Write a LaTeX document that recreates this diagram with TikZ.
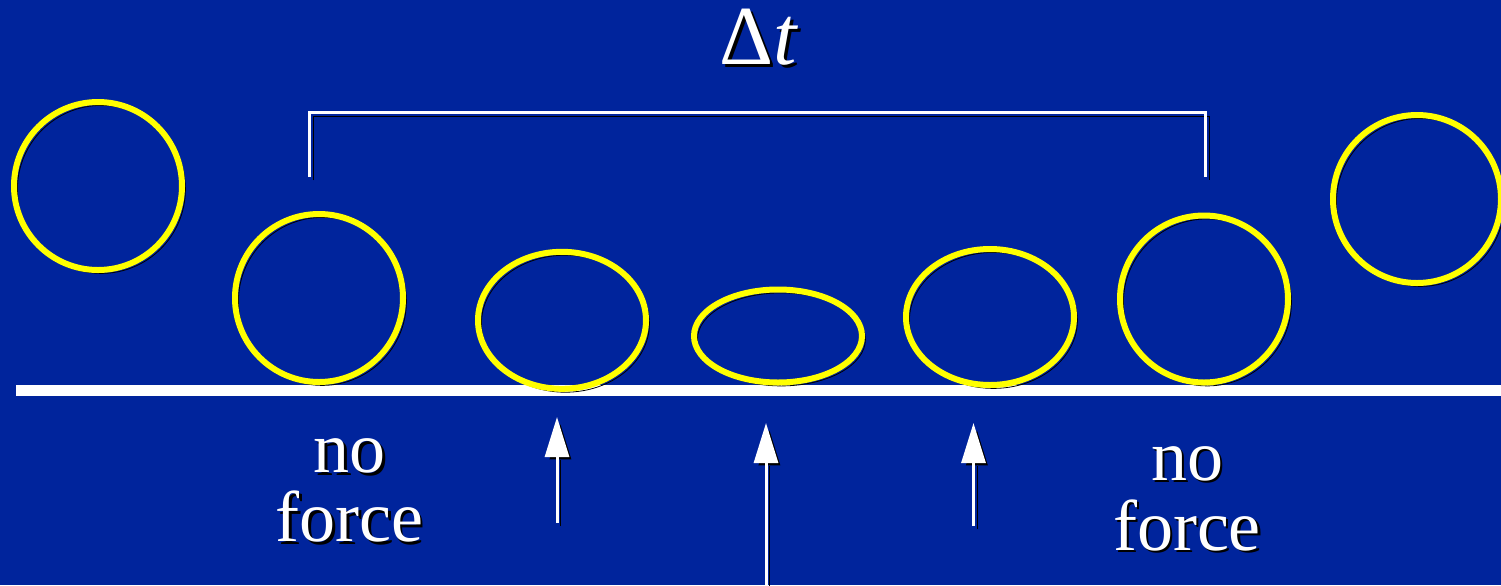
\documentclass[tikz,border=0pt]{standalone}
\usepackage{fontspec}
\setmainfont{Liberation Serif}
\usetikzlibrary{arrows.meta}
\definecolor{bgblue}{RGB}{0,36,156}
\definecolor{ringyellow}{RGB}{255,255,0}
\begin{document}
\begin{tikzpicture}[x=0.5pt,y=-0.5pt,
  sh/.style={preaction={draw=black,transform canvas={shift={(1.7pt,-1.7pt)}}}},
  ringline/.style={draw=ringyellow,line width=3pt,sh},
  groundline/.style={draw=white,line width=5.3pt,sh},
  bracketline/.style={draw=white,line width=1.6pt,line join=miter,sh},
  forcearrow/.style={draw=white,line width=1.5pt,-{Triangle[width=12pt,length=20pt]},sh},
  lbl/.style={font=\fontsize{36}{36}\selectfont,inner sep=0pt,anchor=base},
  dlbl/.style={font=\fontsize{42}{42}\selectfont,inner sep=0pt,anchor=base},
]
\fill[bgblue] (0,0) rectangle (1501,585);
\useasboundingbox (0,0) rectangle (1501,585);

% ground
\coordinate (g1) at (16,390.3);
\coordinate (g2) at (1505,390.3);
\draw[groundline] (g1) -- (g2);

% bracket
\coordinate (b1) at (309.5,177);
\coordinate (b2) at (309.5,112.5);
\coordinate (b3) at (1205.5,112.5);
\coordinate (b4) at (1205.5,177);
\draw[bracketline] (b1) -- (b2) -- (b3) -- (b4);

% delta t
\node[dlbl,text=black] at (762,67) {Δ\textit{t}};
\node[dlbl,text=white] (dt) at (759,64) {Δ\textit{t}};

% balls
\draw[ringline] (98,186) ellipse [x radius=84, y radius=84];
\draw[ringline] (319,298) ellipse [x radius=84, y radius=84];
\draw[ringline] (562,320.3) ellipse [x radius=84, y radius=68.5];
\draw[ringline] (778,336) ellipse [x radius=84, y radius=46.5];
\draw[ringline] (990,317) ellipse [x radius=84, y radius=68];
\draw[ringline] (1204,299) ellipse [x radius=84, y radius=83.5];
\draw[ringline] (1417,199) ellipse [x radius=84, y radius=84];

% force arrows
\coordinate (a1s) at (557,523);
\coordinate (a1e) at (557,417);
\coordinate (a2s) at (766,595);
\coordinate (a2e) at (766,423);
\coordinate (a3s) at (973.5,526);
\coordinate (a3e) at (973.5,423);
\draw[forcearrow] (a1s) -- (a1e);
\draw[forcearrow] (a2s) -- (a2e);
\draw[forcearrow] (a3s) -- (a3e);

% labels
\node[lbl,text=black] at (352,475) {no};
\node[lbl,text=white] (n1a) at (349.5,472.5) {no};
\node[lbl,text=black] at (352,544) {force};
\node[lbl,text=white] (n1b) at (349.5,541.5) {force};
\node[lbl,text=black] at (1189.5,482.5) {no};
\node[lbl,text=white] (n2a) at (1187,480) {no};
\node[lbl,text=black] at (1189.5,552.5) {force};
\node[lbl,text=white] (n2b) at (1187,550) {force};
\end{tikzpicture}
\end{document}
